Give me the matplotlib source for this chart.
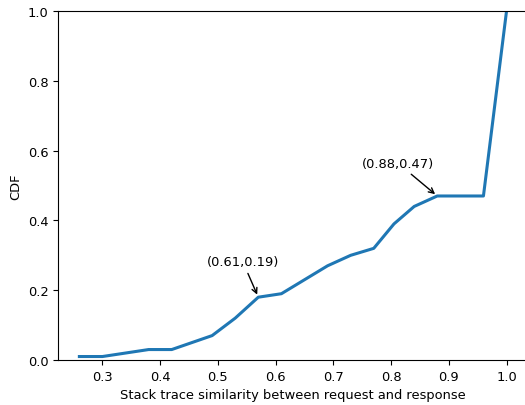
import numpy as np
import matplotlib
matplotlib.use("Agg")
import matplotlib.pyplot as plt

# CDF points
similarity = [0.26, 0.30, 0.38, 0.42, 0.49, 0.53, 0.57, 0.61, 0.69, 0.73, 0.77, 0.805, 0.84, 0.88, 0.96, 1.0]
cdf = [0.01, 0.01, 0.03, 0.03, 0.07, 0.12, 0.18, 0.19, 0.27, 0.30, 0.32, 0.39, 0.44, 0.47, 0.47, 1.0]

plt.rcParams['font.size'] = 9.4

fig = plt.figure(figsize=(5.25, 4.06), dpi=100)
ax = fig.add_axes([0.1105, 0.1108, 0.895, 0.8596])

ax.plot(similarity, cdf, color='#1f77b4', lw=2.2)

ax.annotate('(0.61,0.19)', xy=(0.57, 0.18), xytext=(0.543, 0.282),
            ha='center', va='center',
            arrowprops=dict(arrowstyle='->', color='black'))
ax.annotate('(0.88,0.47)', xy=(0.88, 0.47), xytext=(0.812, 0.564),
            ha='center', va='center',
            arrowprops=dict(arrowstyle='->', color='black'))

ax.set_ylim(0, 1.0)
ax.set_xticks([0.3, 0.4, 0.5, 0.6, 0.7, 0.8, 0.9, 1.0])
ax.set_xlabel('Stack trace similarity between request and response')
ax.set_ylabel('CDF')

fig.savefig('out.png', dpi=100)
